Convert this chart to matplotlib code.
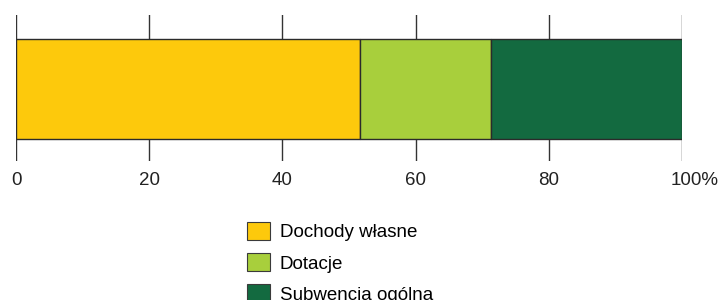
import matplotlib.pyplot as plt
import matplotlib.transforms as mtrans
from matplotlib.patches import Patch

plt.rcParams['font.family'] = ['Liberation Sans', 'DejaVu Sans']

labels = ['Dochody własne', 'Dotacje', 'Subwencja ogólna']
values = [51.7, 19.6, 28.7]
colors = ['#FDC90C', '#A8CF3C', '#136A40']
ticks = [0, 20, 40, 60, 80, 100]
tick_labels = ['0', '20', '40', '60', '80', '100%']

fig = plt.figure(figsize=(7.21, 3.0), dpi=100)
ax = fig.add_axes([16.3 / 721, 1 - 161 / 300, 665.4 / 721, 146 / 300])

left = 0
for v, c in zip(values, colors):
    ax.barh(0.491, v, left=left, height=0.685, color=c, edgecolor='#2b2b2b',
            linewidth=1.0, zorder=3)
    left += v

ax.set_xlim(0, 100)
ax.set_ylim(0, 1)
ax.set_xticks(ticks)
ax.set_xticklabels(tick_labels, fontsize=13.5, color='#222222')
ax.set_yticks([])
ax.tick_params(axis='x', length=0, pad=8)
ax.grid(axis='x', color='#333333', linewidth=1.0, zorder=0)
for s in ax.spines.values():
    s.set_visible(False)

# shift "100%" so that the number sits over its tick
last = ax.get_xticklabels()[-1]
last.set_transform(last.get_transform() + mtrans.ScaledTranslation(13 / 100, 0, fig.dpi_scale_trans))

handles = [Patch(facecolor=c, edgecolor='#3a3a3a', linewidth=0.8) for c in colors]
fig.legend(handles, labels, loc='upper left', bbox_to_anchor=(246.7 / 721, 1 - 222 / 300),
           frameon=False, fontsize=13.5, borderpad=0, handlelength=1.23, handleheight=1.12,
           labelspacing=0.62, handletextpad=0.52, borderaxespad=0)

fig.savefig('out.png', dpi=100)
